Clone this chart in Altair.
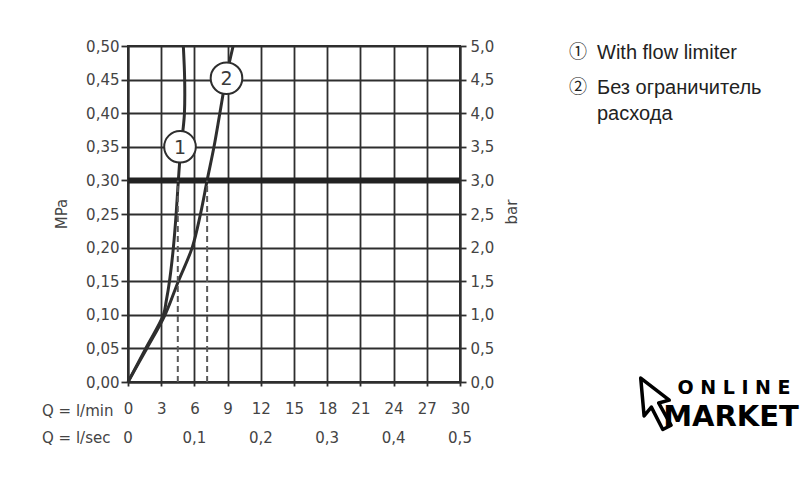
import altair as alt
import pandas as pd

# ---------------- data ----------------
lmin_ticks = [0, 3, 6, 9, 12, 15, 18, 21, 24, 27, 30]
mpa_ticks = [0.0, 0.05, 0.10, 0.15, 0.20, 0.25, 0.30, 0.35, 0.40, 0.45, 0.50]
bar_ticks = [0.0, 0.5, 1.0, 1.5, 2.0, 2.5, 3.0, 3.5, 4.0, 4.5, 5.0]
lsec_pos = [0, 6, 12, 18, 24, 30]
lsec_labels = ["0", "0,1", "0,2", "0,3", "0,4", "0,5"]

# curve 1: with flow limiter (l/min, MPa)
c1_q = [0, 1.6, 3.2, 3.45, 3.75, 4.1, 4.35, 4.55, 4.78, 5.0, 5.1, 5.12, 5.0]
c1_p = [0, 0.05, 0.10, 0.12, 0.15, 0.20, 0.25, 0.30, 0.35, 0.38, 0.40, 0.45, 0.50]
# curve 2: without flow limiter
c2_q = [0, 1.7, 3.35, 4.55, 5.8, 6.55, 7.15, 7.77, 8.3, 8.83, 9.5]
c2_p = [0, 0.05, 0.10, 0.15, 0.20, 0.25, 0.30, 0.35, 0.40, 0.45, 0.50]

ref_p = 0.30          # working pressure line
drop_q = [4.5, 7.15]  # dashed drop lines
circle_q = [4.7, 8.9]
circle_p = [0.35, 0.452]
circle_lab = ["1", "2"]

legend_sym = ["\u2460", "\u2461", ""]
legend_txt = ["With flow limiter", "Без ограничитель", "расхода"]

AX_FONT = "DejaVu Sans"
AX_COLOR = "#444444"
LINE = "#2e2e2e"

curves = pd.DataFrame({
    "q": c1_q + c2_q,
    "p": c1_p + c2_p,
    "s": ["1"] * len(c1_q) + ["2"] * len(c2_q),
    "i": list(range(len(c1_q))) + list(range(len(c2_q))),
})

xs = alt.Scale(domain=[0, 30], nice=False)
ys = alt.Scale(domain=[0, 0.5], nice=False)

x_axis = alt.Axis(values=lmin_ticks, grid=True, title=None, tickSize=4,
                  labelPadding=15, labelFont=AX_FONT, labelFontSize=15,
                  labelColor=AX_COLOR, labelFlush=False, labelOverlap=False)
y_axis = alt.Axis(values=mpa_ticks, grid=True, title=None, tickSize=7,
                  labelPadding=2, labelFont=AX_FONT, labelFontSize=15,
                  labelColor=AX_COLOR, labelOverlap=False,
                  labelExpr="replace(format(datum.value, '.2f'), '.', ',')")


def X(f):
    return alt.X(f, scale=xs, axis=x_axis)


def Y(f):
    return alt.Y(f, scale=ys, axis=y_axis)


one = pd.DataFrame({"a": [0]})

lines = alt.Chart(curves).mark_line(
    interpolate="catmull-rom", strokeWidth=3, color=LINE
).encode(x=X("q:Q"), y=Y("p:Q"), detail="s:N", order="i:Q")

ref = alt.Chart(pd.DataFrame({"p": [ref_p], "q0": [0], "q1": [30]})).mark_rule(
    strokeWidth=6, color="#222222"
).encode(x=X("q0:Q"), x2="q1:Q", y=Y("p:Q"))

drops = alt.Chart(pd.DataFrame({"q": drop_q, "p0": [0, 0], "p1": [ref_p, ref_p]})).mark_rule(
    strokeWidth=2, color="#5a5a5a", strokeDash=[6, 4]
).encode(x=X("q:Q"), y=Y("p0:Q"), y2="p1:Q")

cdf = pd.DataFrame({"q": circle_q, "p": circle_p, "t": circle_lab})
circles = alt.Chart(cdf).mark_point(
    shape="circle", size=1000, filled=True, fill="white", stroke=LINE,
    strokeWidth=2, opacity=1
).encode(x=X("q:Q"), y=Y("p:Q"))
circle_txt = alt.Chart(cdf).mark_text(
    font=AX_FONT, fontSize=19, color="#3a3a3a", baseline="middle", dy=1
).encode(x=X("q:Q"), y=Y("p:Q"), text="t:N")

right_axis = alt.Chart(pd.DataFrame({"b": [0, 5]})).mark_point(opacity=0).encode(
    y=alt.Y("b:Q", scale=alt.Scale(domain=[0, 5], nice=False),
            axis=alt.Axis(values=bar_ticks, orient="right", grid=False, title=None,
                          tickSize=6, labelPadding=4, labelFont=AX_FONT,
                          labelFontSize=15, labelColor=AX_COLOR, labelOverlap=False,
                          labelExpr="replace(format(datum.value, '.1f'), '.', ',')"))
)

# bottom second row (l/sec)
lsec = alt.Chart(pd.DataFrame({"q": lsec_pos, "t": lsec_labels})).mark_text(
    font=AX_FONT, fontSize=15, color=AX_COLOR, baseline="middle"
).encode(x=X("q:Q"), y=alt.value(392), text="t:N")


def txt(text, x, y, **kw):
    return alt.Chart(one).mark_text(text=text, **kw).encode(x=alt.value(x), y=alt.value(y))


q_min = txt("Q = l/min", -86, 365, font=AX_FONT, fontSize=15, color=AX_COLOR,
            align="left", baseline="middle")
q_sec = txt("Q = l/sec", -86, 392, font=AX_FONT, fontSize=15, color=AX_COLOR,
            align="left", baseline="middle")
mpa_t = txt("MPa", -66, 168, font=AX_FONT, fontSize=15, color=AX_COLOR,
            angle=270, align="center", baseline="middle")
bar_t = txt("bar", 384, 166, font=AX_FONT, fontSize=15, color=AX_COLOR,
            angle=270, align="center", baseline="middle")

leg_layers = []
for sym, t, yy in zip(legend_sym, legend_txt, [7, 42, 68]):
    if sym:
        leg_layers.append(txt(sym, 450, yy, font="Noto Sans CJK SC", fontSize=18,
                              color="#222222", align="center", baseline="middle"))
    leg_layers.append(txt(t, 469, yy, font="Liberation Sans", fontSize=20,
                          color="#222222", align="left", baseline="middle"))

# logo
cursor_path = ("M -0.55 -1 L 0.55 -0.15 L 0.14 -0.04 L 0.62 0.82 L 0.3 0.98 "
               "L -0.14 0.12 L -0.42 0.46 Z")
cursor = alt.Chart(one).mark_point(
    shape=cursor_path, size=2700, filled=True, fill="white", stroke="black",
    strokeWidth=3.5, opacity=1, strokeJoin="round"
).encode(x=alt.value(527), y=alt.value(358))
logo1 = txt("O N L I N E", 606, 342, font="DejaVu Sans", fontSize=19, fontWeight="bold",
            color="black", align="center", baseline="middle")
logo2 = txt("MARKET", 603, 371, font="DejaVu Sans", fontSize=29, fontWeight="bold",
            color="black", align="center", baseline="middle")

main = alt.layer(
    lines, ref, drops, circles, circle_txt, lsec,
    q_min, q_sec, mpa_t, bar_t, *leg_layers, cursor, logo1, logo2
)

chart = alt.layer(main, right_axis).resolve_scale(y="independent").properties(
    width=332, height=336,
    padding={"left": 120, "top": 38, "right": 344, "bottom": 88},
    autosize=alt.AutoSizeParams(type="none"),
    background="white",
).configure_view(
    stroke=LINE, strokeWidth=2
).configure_axis(
    gridColor=LINE, gridWidth=1.8, gridOpacity=1,
    domainColor=LINE, domainWidth=2,
    tickColor=LINE, tickWidth=1.8,
)

chart.save("out.html", embed_options={"renderer": "svg", "actions": False})
